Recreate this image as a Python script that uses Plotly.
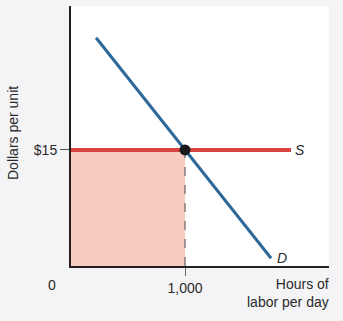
import plotly.graph_objects as go

# Data
price_label = ["$15"]
price_value = [15]
quantity_label = ["1,000"]
quantity_value = [1000]
demand_x = [220, 1755]
demand_y = [29.5, 1.0]
supply_x = [0, 1930]
supply_y = [15, 15]
eq_x = [1000]
eq_y = [15]

X_MAX = 2263
Y_MAX = 33.6
font = "Liberation Sans, Arial, sans-serif"
txt = "#2a2a2a"

PW, PH = 258, 260  # plot area size in px
L, T = 71, 6


def px(xp):
    return (xp - L) / PW


def py(yp):
    return 1 - (yp - T) / PH


fig = go.Figure()

# shaded area (wage bill)
fig.add_trace(go.Scatter(x=[0, eq_x[0], eq_x[0], 0, 0], y=[0, 0, eq_y[0], eq_y[0], 0],
                         fill="toself", fillcolor="#f8cbbf", line=dict(width=0),
                         mode="lines", hoverinfo="skip", showlegend=False))
# dashed vertical
fig.add_trace(go.Scatter(x=[eq_x[0], eq_x[0]], y=[0, eq_y[0]], mode="lines",
                         line=dict(color="#666666", width=1.2, dash="dash"),
                         showlegend=False))
# supply
fig.add_trace(go.Scatter(x=supply_x, y=supply_y, mode="lines",
                         line=dict(color="#d9443e", width=4), showlegend=False))
# demand
fig.add_trace(go.Scatter(x=demand_x, y=demand_y, mode="lines",
                         line=dict(color="#2d6898", width=3), showlegend=False))
# equilibrium
fig.add_trace(go.Scatter(x=eq_x, y=eq_y, mode="markers",
                         marker=dict(color="#1a1a1a", size=11), showlegend=False))

fig.update_layout(
    width=343, height=321,
    margin=dict(l=L, r=343 - L - PW, t=T, b=321 - T - PH),
    paper_bgcolor="#f4f4f6", plot_bgcolor="white",
    font=dict(family=font, size=14, color=txt),
    xaxis=dict(range=[0, X_MAX], showgrid=False, zeroline=False,
               showline=True, linecolor="#231f20", linewidth=2,
               tickvals=quantity_value, ticktext=quantity_label,
               ticks="outside", ticklen=8, tickcolor="#666666", tickwidth=1.2,
               ticklabelstandoff=0, fixedrange=True,
               tickfont=dict(size=14, color=txt)),
    yaxis=dict(range=[0, Y_MAX], showgrid=False, zeroline=False,
               showline=True, linecolor="#231f20", linewidth=2,
               tickvals=price_value, ticktext=price_label,
               ticks="outside", ticklen=9, tickcolor="#555555", tickwidth=1,
               fixedrange=True, tickfont=dict(size=14, color=txt)),
    annotations=[
        dict(x=px(331), y=py(312), xref="paper", yref="paper", yanchor="bottom",
             text="Hours of<br>labor per day", showarrow=False, xanchor="right",
             align="right", font=dict(size=14, color=txt)),
        dict(x=px(52), y=py(285), xref="paper", yref="paper", text="0",
             showarrow=False, xanchor="center", yanchor="middle",
             font=dict(size=14, color=txt)),
        dict(x=px(13), y=py(133), xref="paper", yref="paper", text="Dollars per unit",
             textangle=-90, showarrow=False, xanchor="center", yanchor="middle",
             font=dict(size=14, color=txt)),
        dict(x=2009, y=15, text="<i>S</i>", showarrow=False, xanchor="center",
             yanchor="middle", font=dict(size=14, color=txt)),
        dict(x=1855, y=1.0, text="<i>D</i>", showarrow=False, xanchor="center",
             yanchor="middle", font=dict(size=14, color=txt)),
    ],
)

fig.write_html("out.html")
